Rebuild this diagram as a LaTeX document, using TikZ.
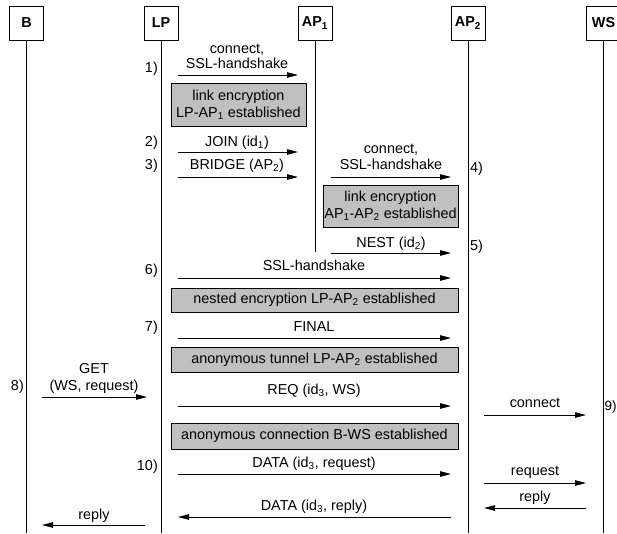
\documentclass[tikz,border=0pt]{standalone}
\usepackage{fontspec}
\setmainfont{Liberation Sans}
\usetikzlibrary{arrows.meta,calc}
\definecolor{boxgray}{RGB}{192,192,192}
\tikzset{
  x=1pt, y=-1pt,
  every node/.style={font=\fontsize{14.4}{16.5}\selectfont, inner sep=0pt},
  actor/.style={draw, line width=0.9pt, minimum width=34pt, minimum height=34pt,
    font=\fontsize{14.4}{16.5}\selectfont\bfseries},
  lifeline/.style={line width=0.9pt},
  msg/.style={line width=0.9pt, -{Triangle[length=11pt,width=5.5pt]}},
  lbl/.style={anchor=base},
  stepnum/.style={anchor=base east},
  stepnumr/.style={anchor=base west},
}
% message arrow: name, x-from, x-to, y
\newcommand\msgarrow[4]{%
  \coordinate (#1-s) at (#2,#4);
  \coordinate (#1-e) at (#3,#4);
  \draw[msg] (#1-s) -- (#1-e);}
% gray status box: name, left, top, right, bottom, text
\newcommand\statusbox[6]{%
  \coordinate (#1-nw) at (#2,#3);
  \coordinate (#1-se) at (#4,#5);
  \draw[line width=0.9pt, fill=boxgray] (#1-nw) rectangle (#1-se);
  \node[align=center] (#1) at ($(#1-nw)!0.5!(#1-se)$) {#6};}
\begin{document}
\begin{tikzpicture}
\useasboundingbox (0,0) rectangle (617,533);

% participants
\node[actor] (B)   at (26.5,23)  {B};
\node[actor] (LP)  at (161,23)   {LP};
\node[actor] (AP1) at (315,23)   {AP\textsubscript{1}};
\node[actor] (AP2) at (468,23)   {AP\textsubscript{2}};
\node[actor] (WS)  at (603.5,23) {WS};

% lifelines
\coordinate (B-end)   at (B.south |- 0,533);
\coordinate (LP-end)  at (LP.south |- 0,533);
\coordinate (AP1-end) at (AP1.south |- 0,252);
\coordinate (AP2-end) at (AP2.south |- 0,533);
\coordinate (WS-end)  at (WS.south |- 0,533);
\draw[lifeline] (B.south) -- (B-end);
\draw[lifeline] (LP.south) -- (LP-end);
\draw[lifeline] (AP1.south) -- (AP1-end);
\draw[lifeline] (AP2.south) -- (AP2-end);
\draw[lifeline] (WS.south) -- (WS-end);

% 1) LP -> AP1
\node[stepnum] (n1) at (158,72) {1)};
\node[lbl] (t1a) at (237,53) {connect,};
\node[lbl] (t1b) at (237,68) {SSL-handshake};
\msgarrow{m1}{178}{298}{75}
\statusbox{s1}{171}{83}{306}{126}{link encryption\\[0.5pt]LP-AP\textsubscript{1} established}

% 2) JOIN
\node[stepnum] (n2) at (158,146) {2)};
\node[lbl] (t2) at (237,146) {JOIN (id\textsubscript{1})};
\msgarrow{m2}{178}{298}{152}

% 3) BRIDGE
\node[stepnum] (n3) at (158,169) {3)};
\node[lbl] (t3) at (237,169) {BRIDGE (AP\textsubscript{2})};
\msgarrow{m3}{178}{298}{177}

% 4) AP1 -> AP2
\node[stepnumr] (n4) at (470,172) {4)};
\node[lbl] (t4a) at (391,153) {connect,};
\node[lbl] (t4b) at (391,169) {SSL-handshake};
\msgarrow{m4}{331}{451}{177}
\statusbox{s2}{323}{185}{458}{227}{link encryption\\[0.5pt]AP\textsubscript{1}-AP\textsubscript{2} established}

% 5) NEST
\node[stepnumr] (n5) at (470,250) {5)};
\node[lbl] (t5) at (391,247) {NEST (id\textsubscript{2})};
\msgarrow{m5}{331}{451}{253}

% 6) nested SSL-handshake
\node[stepnum] (n6) at (158,274) {6)};
\node[lbl] (t6) at (314,270) {SSL-handshake};
\msgarrow{m6}{178}{451}{278}
\statusbox{s3}{171}{288}{458}{312}{nested encryption LP-AP\textsubscript{2} established}

% 7) FINAL
\node[stepnum] (n7) at (158,331) {7)};
\node[lbl] (t7) at (314,331) {FINAL};
\msgarrow{m7}{178}{451}{338}
\statusbox{s4}{171}{347}{458}{372}{anonymous tunnel LP-AP\textsubscript{2} established}

% 8) GET from browser
\node[stepnum] (n8) at (24,390) {8)};
\node[lbl] (t8a) at (94,373) {GET};
\node[lbl] (t8b) at (94,390) {(WS, request)};
\msgarrow{m8}{42}{147}{397}

% REQ
\node[lbl] (t8c) at (314,394) {REQ (id\textsubscript{3}, WS)};
\msgarrow{m8r}{178}{451}{406}

% 9) connect to WS
\node[stepnumr, font=\fontsize{13.5}{15}\selectfont] (n9) at (604.3,410) {9)};
\node[lbl] (t9) at (535,407) {connect};
\msgarrow{m9}{484}{586}{415}
\statusbox{s5}{171}{423}{458}{449}{anonymous connection B-WS established}

% 10) data exchange
\node[stepnum] (n10) at (158,470) {10)};
\node[lbl] (t10) at (314,467) {DATA (id\textsubscript{3}, request)};
\msgarrow{m10}{178}{451}{474}
\node[lbl] (t11) at (535,475) {request};
\msgarrow{m11}{484}{586}{483}
\node[lbl] (t12) at (535,501) {reply};
\msgarrow{m12}{586}{484}{508}
\node[lbl] (t13) at (314,510) {DATA (id\textsubscript{3}, reply)};
\msgarrow{m13}{451}{178}{517}
\node[lbl] (t14) at (94,519) {reply};
\msgarrow{m14}{145}{42}{525}
\end{tikzpicture}
\end{document}
